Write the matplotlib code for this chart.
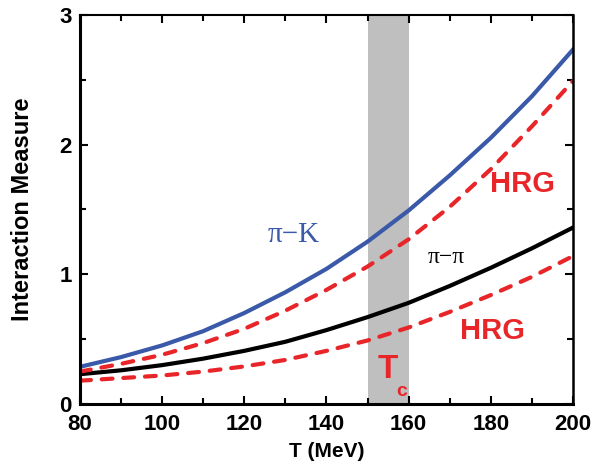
import numpy as np
import matplotlib.pyplot as plt
from matplotlib.ticker import MultipleLocator

plt.rcParams['font.family'] = ['Liberation Sans', 'DejaVu Sans']

T = [80, 90, 100, 110, 120, 130, 140, 150, 160, 170, 180, 190, 200]
pi_k = [0.287, 0.362, 0.452, 0.562, 0.702, 0.862, 1.042, 1.252, 1.492, 1.762, 2.052, 2.372, 2.732]
hrg_pi_k = [0.25, 0.31, 0.38, 0.47, 0.58, 0.72, 0.88, 1.06, 1.27, 1.52, 1.81, 2.14, 2.49]
pi_pi = [0.23, 0.26, 0.30, 0.35, 0.41, 0.48, 0.57, 0.67, 0.78, 0.91, 1.05, 1.20, 1.36]
hrg_pi_pi = [0.18, 0.20, 0.22, 0.25, 0.29, 0.34, 0.41, 0.49, 0.59, 0.71, 0.84, 0.98, 1.14]
tc_band = (150, 160)

red = '#e8262a'
blue = '#3a59a8'

fig = plt.figure(figsize=(6.16, 4.66), dpi=100)
ax = fig.add_axes([0.130, 0.133, 0.800, 0.835])

ax.axvspan(*tc_band, color='#bfbfbf', lw=0)
ax.plot(T, pi_k, color=blue, lw=3)
ax.plot(T, pi_pi, color='black', lw=3)
dash = (0, (2.6, 2.6))
ax.plot(T, hrg_pi_k, color=red, lw=3, ls=dash, dash_capstyle='round')
ax.plot(T, hrg_pi_pi, color=red, lw=3, ls=dash, dash_capstyle='round')

ax.text(132.1, 1.30, 'π−K', color=blue, fontsize=21, family='Liberation Serif', ha='center', va='center')
ax.text(169.2, 1.13, 'π−π', color='black', fontsize=17, family='Liberation Serif', ha='center', va='center')
ax.text(187.6, 1.70, 'HRG', color=red, fontsize=21, fontweight='bold', ha='center', va='center')
ax.text(180.4, 0.56, 'HRG', color=red, fontsize=21, fontweight='bold', ha='center', va='center')
ax.text(155.0, 0.27, 'T', color=red, fontsize=24, fontweight='bold', ha='center', va='center')
ax.text(158.4, 0.10, 'c', color=red, fontsize=14, fontweight='bold', ha='center', va='center')

ax.set_xlim(80, 200)
ax.set_ylim(0, 3)
ax.xaxis.set_major_locator(MultipleLocator(20))
ax.xaxis.set_minor_locator(MultipleLocator(10))
ax.yaxis.set_major_locator(MultipleLocator(1))
ax.yaxis.set_minor_locator(MultipleLocator(0.5))
ax.tick_params(which='both', direction='in', top=True, right=True, width=1.5)
ax.tick_params(which='major', length=6, labelsize=16)
ax.tick_params(axis='y', which='major', pad=6)
ax.tick_params(axis='x', which='major', pad=7)
ax.tick_params(which='minor', length=4)
for lab in ax.get_xticklabels() + ax.get_yticklabels():
    lab.set_fontweight('bold')

ax.spines['left'].set_linewidth(2.2)
ax.spines['bottom'].set_linewidth(2.2)
ax.spines['right'].set_linewidth(1.8)
ax.spines['top'].set_linewidth(1.5)

ax.set_xlabel('T (MeV)', fontsize=15, fontweight='bold', labelpad=5)
ax.set_ylabel('Interaction Measure', fontsize=17, fontweight='bold', labelpad=18)

fig.savefig('out.png', dpi=100)
